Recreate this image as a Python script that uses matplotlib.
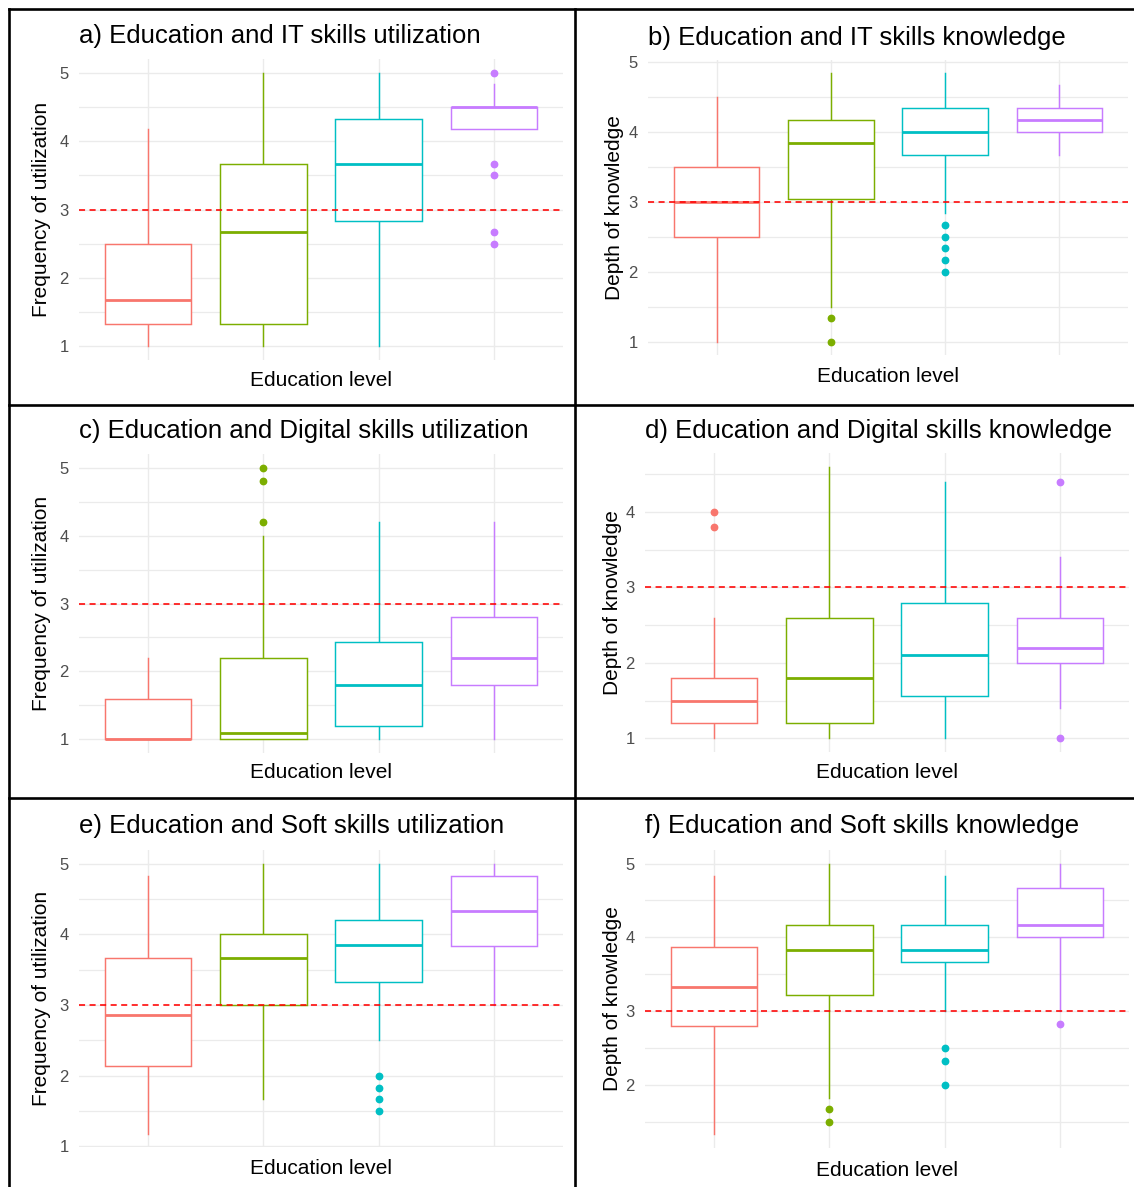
import matplotlib
matplotlib.use("Agg")
import matplotlib.pyplot as plt
from matplotlib.lines import Line2D
import numpy as np

W, H, DPI = 1134, 1187, 100
plt.rcParams["font.family"] = ["Liberation Sans", "DejaVu Sans"]

# Box statistics per education level: (lower whisker, Q1, median, Q3, upper whisker)
a_box = [(1.00, 1.33, 1.67, 2.50, 4.17), (1.00, 1.33, 2.67, 3.67, 5.00),
         (1.00, 2.83, 3.67, 4.33, 5.00), (4.17, 4.17, 4.50, 4.50, 4.83)]
a_out = [[], [], [], [5.00, 3.67, 3.50, 2.67, 2.50]]

b_box = [(1.00, 2.50, 3.00, 3.50, 4.50), (1.50, 3.03, 3.83, 4.17, 4.83),
         (2.83, 3.67, 4.00, 4.33, 4.83), (3.67, 4.00, 4.17, 4.33, 4.67)]
b_out = [[], [1.33, 1.00], [2.67, 2.50, 2.33, 2.17, 2.00], []]

c_box = [(1.00, 1.00, 1.00, 1.60, 2.20), (1.00, 1.00, 1.10, 2.20, 4.00),
         (1.00, 1.20, 1.80, 2.44, 4.20), (1.00, 1.80, 2.20, 2.80, 4.20)]
c_out = [[], [4.20, 4.80, 5.00], [], []]

d_box = [(1.00, 1.20, 1.50, 1.80, 2.60), (1.00, 1.20, 1.80, 2.60, 4.60),
         (1.00, 1.56, 2.11, 2.80, 4.40), (1.40, 2.00, 2.20, 2.60, 3.40)]
d_out = [[4.00, 3.80], [], [], [4.40, 1.00]]

e_box = [(1.18, 2.13, 2.85, 3.67, 4.83), (1.67, 3.00, 3.67, 4.00, 5.00),
         (2.50, 3.33, 3.85, 4.20, 5.00), (3.00, 3.83, 4.33, 4.83, 5.00)]
e_out = [[], [], [2.00, 1.83, 1.67, 1.50], []]

f_box = [(1.33, 2.80, 3.33, 3.87, 4.83), (1.83, 3.22, 3.83, 4.17, 5.00),
         (3.00, 3.67, 3.83, 4.17, 4.83), (3.00, 4.00, 4.17, 4.67, 5.00)]
f_out = [[], [1.67, 1.50], [2.50, 2.33, 2.00], [2.83]]

titles = ["a) Education and IT skills utilization",
          "b) Education and IT skills knowledge",
          "c) Education and Digital skills utilization",
          "d) Education and Digital skills knowledge",
          "e) Education and Soft skills utilization",
          "f) Education and Soft skills knowledge"]
ylabels = ["Frequency of utilization", "Depth of knowledge"] * 3
xlabel = "Education level"
reference_level = 3

level_colors = ["#F8766D", "#7CAE00", "#00BFC4", "#C77CFF"]

# panel rectangles in pixels: left, right, top, bottom
panel_px = [(79, 563, 59, 360), (648, 1128, 60, 355),
            (79, 563, 454, 753), (645, 1129, 453, 752),
            (79, 563, 850, 1147), (645, 1129, 850, 1148)]
title_y = [36, 38, 431, 431, 826, 826]
xlab_y = [380, 377, 773, 773, 1168, 1170]
ylab_x = [42, 614, 42, 612, 42, 612]

fig = plt.figure(figsize=(W / DPI, H / DPI), dpi=DPI)
fig.patch.set_facecolor("white")

GRID = "#EBEBEB"


def draw_panel(i, box, out):
    l, r, t, b = panel_px[i]
    ax = fig.add_axes([l / W, 1 - b / H, (r - l) / W, (b - t) / H])
    pos = np.arange(1, len(box) + 1)
    stats = [dict(whislo=s[0], q1=s[1], med=s[2], q3=s[3], whishi=s[4], fliers=f)
             for s, f in zip(box, out)]
    art = ax.bxp(stats, positions=pos, widths=0.75, patch_artist=True,
                 showcaps=False, manage_ticks=False)
    for k, c in enumerate(level_colors):
        bx = art["boxes"][k]
        bx.set_facecolor("white")
        bx.set_edgecolor(c)
        bx.set_linewidth(1.05)
        bx.set_zorder(2)
        for w in art["whiskers"][2 * k:2 * k + 2]:
            w.set_color(c)
            w.set_linewidth(1.05)
            w.set_zorder(1.9)
        m = art["medians"][k]
        m.set_color(c)
        m.set_linewidth(2.0)
        m.set_solid_capstyle("butt")
        m.set_zorder(2.1)
        fl = art["fliers"][k]
        fl.set_marker("o")
        fl.set_markerfacecolor(c)
        fl.set_markeredgecolor(c)
        fl.set_markersize(4.6)
        fl.set_zorder(2.2)

    ax.axhline(reference_level, color="red", lw=1.15, ls=(0, (3.8, 2.8)), zorder=3)

    vals = [v for s in box for v in s] + [v for f in out for v in f]
    lo, hi = min(vals), max(vals)
    pad = 0.05 * (hi - lo)
    ax.set_ylim(lo - pad, hi + pad)
    ax.set_xlim(0.4, len(box) + 0.6)

    ymin, ymax = lo - pad, hi + pad
    major = [v for v in range(0, 7) if ymin <= v <= ymax]
    minor = [v + 0.5 for v in range(0, 7) if ymin <= v + 0.5 <= ymax]
    ax.set_yticks(major)
    ax.set_yticklabels([str(v) for v in major])
    ax.set_yticks(minor, minor=True)
    ax.set_xticks(pos)
    ax.set_xticklabels([])
    ax.tick_params(axis="both", which="both", length=0)
    ax.tick_params(axis="y", pad=7.5, labelsize=12, labelcolor="#4D4D4D")
    ax.grid(True, which="major", axis="both", color=GRID, lw=1.0, zorder=0)
    ax.grid(True, which="minor", axis="y", color=GRID, lw=0.9, zorder=0)
    ax.set_axisbelow(True)
    for sp in ax.spines.values():
        sp.set_visible(False)

    fig.text(l / W, 1 - title_y[i] / H, titles[i], ha="left", va="center",
             fontsize=18.5, color="black")
    fig.text(ylab_x[i] / W, 1 - (t + b) / 2 / H, ylabels[i], rotation=90,
             ha="center", va="center", fontsize=15, color="black")
    fig.text((l + r) / 2 / W, 1 - xlab_y[i] / H, xlabel, ha="center",
             va="center", fontsize=15, color="black")


for i, (bx, ot) in enumerate([(a_box, a_out), (b_box, b_out), (c_box, c_out),
                              (d_box, d_out), (e_box, e_out), (f_box, f_out)]):
    draw_panel(i, bx, ot)


# frame lines separating the six panels
def frame_line(x0, y0, x1, y1):
    fig.add_artist(Line2D([x0 / W, x1 / W], [1 - y0 / H, 1 - y1 / H],
                          transform=fig.transFigure, color="black", lw=1.9,
                          solid_capstyle="projecting"))


frame_line(9, 9, W, 9)
frame_line(9, 9, 9, H)
frame_line(575, 9, 575, H)
frame_line(9, 405, W, 405)
frame_line(9, 798, W, 798)

fig.savefig("out.png", dpi=DPI, facecolor="white")
